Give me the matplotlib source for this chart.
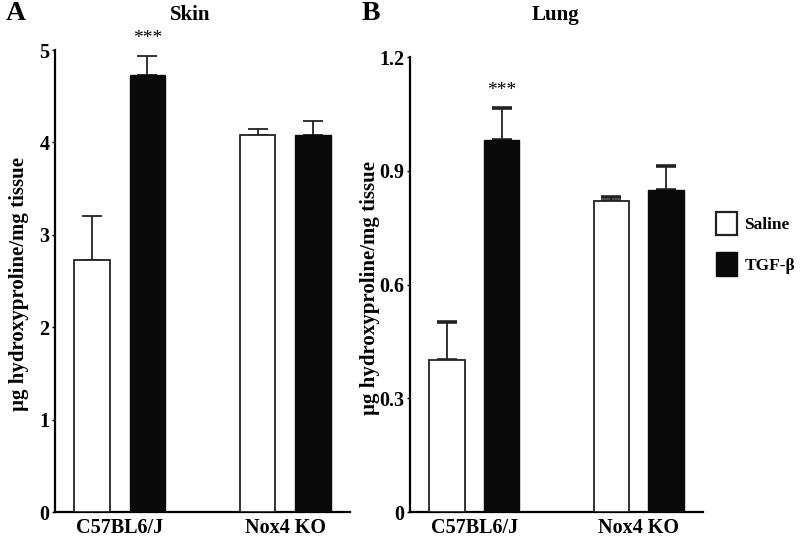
import numpy as np
import matplotlib
matplotlib.use("Agg")
import matplotlib.pyplot as plt
from matplotlib.patches import Patch

plt.rcParams["font.family"] = ["Liberation Serif", "DejaVu Serif"]
plt.rcParams["font.weight"] = "bold"

groups = ["C57BL6/J", "Nox4 KO"]
series = ["Saline", "TGF-\u03b2"]

skin_saline = [2.73, 4.08]
skin_saline_err = [0.47, 0.06]
skin_tgf = [4.73, 4.08]
skin_tgf_err = [0.20, 0.15]

lung_saline = [0.40, 0.82]
lung_saline_err = [0.10, 0.01]
lung_tgf = [0.98, 0.85]
lung_tgf_err = [0.085, 0.063]

skin_ticks = [0, 1, 2, 3, 4, 5]
lung_ticks = [0, 0.3, 0.6, 0.9, 1.2]
lung_ticklabels = ["0", "0.3", "0.6", "0.9", "1.2"]


def draw_panel(ax, saline, saline_err, tgf, tgf_err, ymax, ticks, ticklabels, capthick):
    x = np.arange(len(groups))
    off = 0.167
    w = 0.215
    ax.bar(x - off, saline, w, color="white", edgecolor="#222222", linewidth=1.3, zorder=3)
    ax.bar(x + off, tgf, w, color="#0a0a0a", edgecolor="#0a0a0a", linewidth=1.0, zorder=3)
    ax.errorbar(x - off, saline, yerr=[np.zeros(len(saline)), saline_err], fmt="none",
                ecolor="#222222", elinewidth=1.3, capsize=7, capthick=capthick, zorder=2)
    ax.errorbar(x + off, tgf, yerr=[np.zeros(len(tgf)), tgf_err], fmt="none",
                ecolor="#222222", elinewidth=1.3, capsize=7, capthick=capthick, zorder=2)
    ax.set_xlim(-0.392, 1.392)
    ax.set_ylim(0, ymax)
    ax.set_yticks(ticks)
    ax.set_yticklabels(ticklabels, fontsize=14.5, fontweight="bold")
    ax.set_xticks(x)
    ax.set_xticklabels(groups, fontsize=14.5, fontweight="bold")
    ax.tick_params(axis="x", length=0, pad=4)
    ax.tick_params(axis="y", length=2.5, width=1, pad=1.5)
    for s in ["top", "right"]:
        ax.spines[s].set_visible(False)
    for s in ["left", "bottom"]:
        ax.spines[s].set_linewidth(1.6)
    return x + off


fig = plt.figure(figsize=(8, 5.4), dpi=100)

ax1 = fig.add_axes([55 / 800, 28 / 540, 295 / 800, 462 / 540])
tx = draw_panel(ax1, skin_saline, skin_saline_err, skin_tgf, skin_tgf_err, 5,
                skin_ticks, [str(t) for t in skin_ticks], 1.3)
ax1.text(tx[0], skin_tgf[0] + skin_tgf_err[0] + 0.1, "***", ha="center", va="bottom",
         fontsize=14, fontweight="normal")

ax2 = fig.add_axes([410 / 800, 28 / 540, 293 / 800, 455 / 540])
tx = draw_panel(ax2, lung_saline, lung_saline_err, lung_tgf, lung_tgf_err, 1.2,
                lung_ticks, lung_ticklabels, 2.6)
ax2.text(tx[0], lung_tgf[0] + lung_tgf_err[0] + 0.025, "***", ha="center", va="bottom",
         fontsize=14, fontweight="normal")

ylab = "\u00b5g hydroxyproline/mg tissue"
fig.text(19 / 800, 1 - 284 / 540, ylab, rotation=90, ha="center", va="center",
         fontsize=15, fontweight="bold")
fig.text(370 / 800, 1 - 288 / 540, ylab, rotation=90, ha="center", va="center",
         fontsize=15, fontweight="bold")

fig.text(6 / 800, 1 - 14 / 540, "A", fontsize=20, fontweight="bold", ha="left", va="center")
fig.text(190 / 800, 1 - 15 / 540, "Skin", fontsize=15, fontweight="bold", ha="center", va="center")
fig.text(362 / 800, 1 - 14 / 540, "B", fontsize=20, fontweight="bold", ha="left", va="center")
fig.text(555 / 800, 1 - 15 / 540, "Lung", fontsize=15, fontweight="bold", ha="center", va="center")

handles = [Patch(facecolor="white", edgecolor="#222222", linewidth=1.6),
           Patch(facecolor="#0a0a0a", edgecolor="#0a0a0a")]
fig.legend(handles, series, loc="upper left", bbox_to_anchor=(700 / 800, 1 - 196 / 540),
           frameon=False, handlelength=1.25, handleheight=1.7,
           handletextpad=0.4, labelspacing=1.0, prop={"weight": "bold", "size": 12.5})

fig.savefig("out.png", dpi=100)
